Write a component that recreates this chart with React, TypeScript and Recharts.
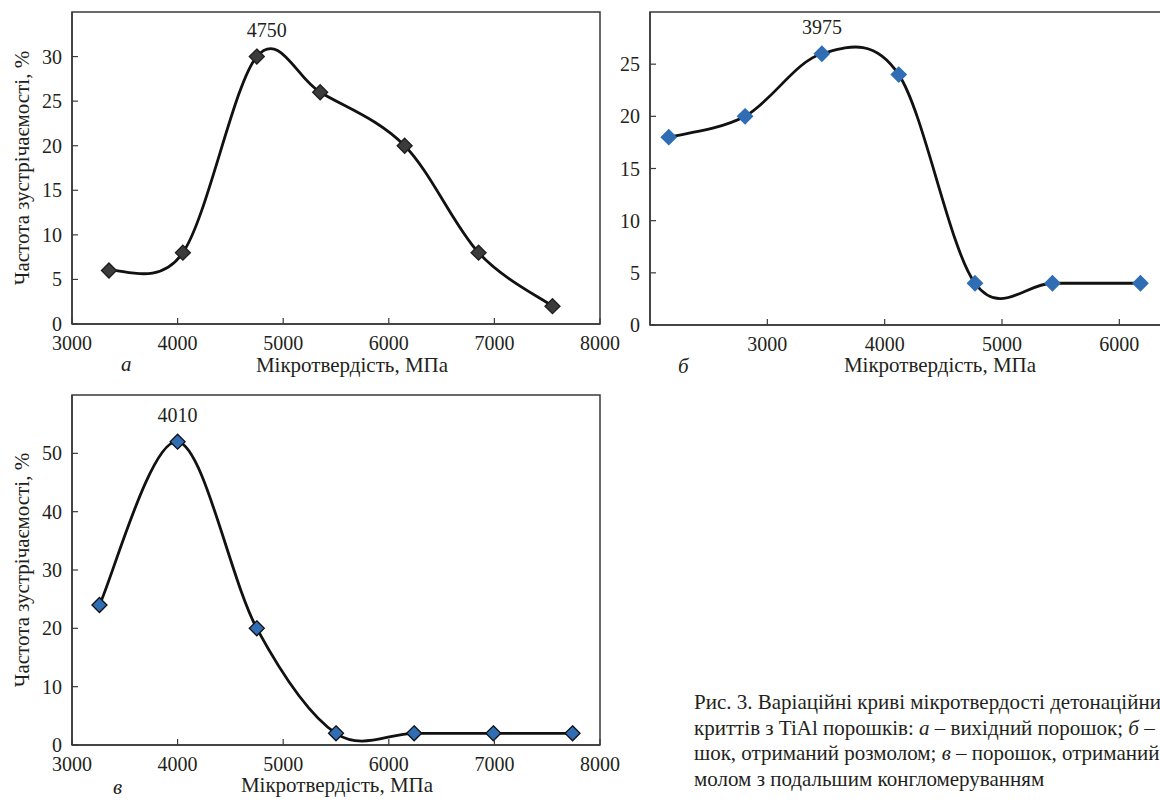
import {
  Line,
  LineChart,
  ReferenceArea,
  ReferenceDot,
  XAxis,
  YAxis,
} from "recharts"

// panel а – вихідний порошок
const A_X = [3350, 4050, 4750, 5350, 6150, 6850, 7550]
const A_Y = [6, 8, 30, 26, 20, 8, 2]
const A_PEAK = 2
const A_PEAK_LABEL = "4750"
const A_X_TICKS = [3000, 4000, 5000, 6000, 7000, 8000]
const A_Y_TICKS = [0, 5, 10, 15, 20, 25, 30]

// panel б – розмол
const B_X = [2160, 2810, 3465, 4120, 4770, 5430, 6180]
const B_Y = [18, 20, 26, 24, 4, 4, 4]
const B_PEAK = 2
const B_PEAK_LABEL = "3975"
const B_X_TICKS = [3000, 4000, 5000, 6000]
const B_Y_TICKS = [0, 5, 10, 15, 20, 25]

// panel в – розмол + конгломерування
const C_X = [3260, 4000, 4750, 5500, 6240, 6990, 7740]
const C_Y = [24, 52, 20, 2, 2, 2, 2]
const C_PEAK = 1
const C_PEAK_LABEL = "4010"
const C_X_TICKS = [3000, 4000, 5000, 6000, 7000, 8000]
const C_Y_TICKS = [0, 10, 20, 30, 40, 50]

const X_TITLE = "Мікротвердість, МПа"
const Y_TITLE = "Частота зустрічаємості, %"

const FONT = "Liberation Serif, DejaVu Serif, serif"
const TEXT = "#231f20"
const AXIS = "#3a3a3a"
const BLUE = "#2f6db5"
const TICK_MARGIN = 10
const TICK_LEN = 6

const toRows = (xs: number[], ys: number[]) =>
  xs.map((x, i) => ({ x, y: ys[i] }))

// Excel-style smoothed line (Catmull-Rom as cubic Bezier)
const smoothCurve = (context: any) => {
  let pts: number[][] = []
  return {
    areaStart() {},
    areaEnd() {},
    lineStart() {
      pts = []
    },
    point(x: number, y: number) {
      pts.push([+x, +y])
    },
    lineEnd() {
      if (!pts.length) return
      context.moveTo(pts[0][0], pts[0][1])
      for (let i = 0; i < pts.length - 1; i++) {
        const p0 = pts[Math.max(i - 1, 0)]
        const p1 = pts[i]
        const p2 = pts[i + 1]
        const p3 = pts[Math.min(i + 2, pts.length - 1)]
        context.bezierCurveTo(
          p1[0] + (p2[0] - p0[0]) / 6,
          p1[1] + (p2[1] - p0[1]) / 6,
          p2[0] - (p3[0] - p1[0]) / 6,
          p2[1] - (p3[1] - p1[1]) / 6,
          p2[0],
          p2[1]
        )
      }
    },
  }
}

const XTick = (props: any) => {
  const { x, y, payload } = props
  const axisY = y - TICK_MARGIN
  return (
    <g>
      <line x1={x} x2={x} y1={axisY} y2={axisY - TICK_LEN} stroke={AXIS} strokeWidth={1.2} />
      <text x={x} y={y + 2} dy="0.72em" textAnchor="middle" fontSize={20} fill={TEXT} fontFamily={FONT}>
        {payload.value}
      </text>
    </g>
  )
}

const YTick = (props: any) => {
  const { x, y, payload } = props
  const axisX = x + TICK_MARGIN
  return (
    <g>
      <line x1={axisX} x2={axisX + TICK_LEN} y1={y} y2={y} stroke={AXIS} strokeWidth={1.2} />
      <text x={x} y={y} dy="0.35em" textAnchor="end" fontSize={20} fill={TEXT} fontFamily={FONT}>
        {payload.value}
      </text>
    </g>
  )
}

const diamond = (fill: string, stroke: string, r: number) => (props: any) => {
  const { cx, cy, index } = props
  if (cx == null || cy == null) return <g key={index} />
  return (
    <polygon
      key={index}
      points={`${cx},${cy - r} ${cx + r},${cy} ${cx},${cy + r} ${cx - r},${cy}`}
      fill={fill}
      stroke={stroke}
      strokeWidth={1.3}
    />
  )
}

interface PanelProps {
  xs: number[]
  ys: number[]
  peak: number
  peakLabel: string
  peakDx: number
  xDomain: [number, number]
  yMax: number
  xTicks: number[]
  yTicks: number[]
  width: number
  height: number
  plotHeight: number
  showYTitle: boolean
  titleDx: number
  dot: (props: any) => any
}

const Panel = ({
  xs,
  ys,
  peak,
  peakLabel,
  peakDx,
  xDomain,
  yMax,
  xTicks,
  yTicks,
  width,
  height,
  plotHeight,
  showYTitle,
  titleDx,
  dot,
}: PanelProps) => {
  const data = toRows(xs, ys)
  return (
    <LineChart
      width={width}
      height={height}
      data={data}
      margin={{ top: 12, right: width - 600, left: 0, bottom: 0 }}
    >
      <XAxis
        dataKey="x"
        type="number"
        domain={xDomain}
        ticks={xTicks}
        interval={0}
        height={height - 12 - plotHeight}
        tickSize={0}
        tickMargin={TICK_MARGIN}
        tickLine={false}
        tick={<XTick />}
        axisLine={{ stroke: AXIS, strokeWidth: 1.5 }}
        label={{
          value: X_TITLE,
          position: "insideBottom",
          offset: 8,
          dx: titleDx,
          fontSize: 21,
          fill: TEXT,
          fontFamily: FONT,
        }}
      />
      <YAxis
        type="number"
        domain={[0, yMax]}
        ticks={yTicks}
        interval={0}
        width={72}
        tickSize={0}
        tickMargin={TICK_MARGIN}
        tickLine={false}
        tick={<YTick />}
        axisLine={{ stroke: AXIS, strokeWidth: 1.5 }}
        label={
          showYTitle
            ? {
                value: Y_TITLE,
                angle: -90,
                position: "center",
                dx: -14,
                fontSize: 21,
                fill: TEXT,
                fontFamily: FONT,
              }
            : undefined
        }
      />
      <ReferenceArea
        x1={xDomain[0]}
        x2={xDomain[1]}
        y1={0}
        y2={yMax}
        fill="none"
        stroke={AXIS}
        strokeWidth={1.5}
        ifOverflow="visible"
      />
      <Line
        dataKey="y"
        type={smoothCurve as any}
        stroke="#111"
        strokeWidth={2.8}
        dot={dot}
        activeDot={false}
        isAnimationActive={false}
      />
      <ReferenceDot
        x={xs[peak]}
        y={ys[peak]}
        r={0}
        fill="none"
        stroke="none"
        label={{
          value: peakLabel,
          position: "top",
          offset: 20,
          dx: peakDx,
          fontSize: 20,
          fill: TEXT,
          fontFamily: FONT,
        }}
      />
    </LineChart>
  )
}

const letterStyle = (left: number, top: number): React.CSSProperties => ({
  position: "absolute",
  left,
  top,
  fontFamily: FONT,
  fontStyle: "italic",
  fontSize: 21,
  color: TEXT,
  lineHeight: "20px",
})

export default function App() {
  return (
    <div
      style={{
        position: "absolute",
        left: 0,
        top: 0,
        width: 1160,
        height: 803,
        overflow: "hidden",
        background: "#fff",
      }}
    >
      <div style={{ position: "absolute", left: 0, top: 0 }}>
        <Panel
          xs={A_X}
          ys={A_Y}
          peak={A_PEAK}
          peakLabel={A_PEAK_LABEL}
          peakDx={10}
          xDomain={[3000, 8000]}
          yMax={35}
          xTicks={A_X_TICKS}
          yTicks={A_Y_TICKS}
          width={640}
          height={380}
          plotHeight={312}
          showYTitle
          titleDx={16}
          dot={diamond("#3b3b3b", "#1e1e1e", 7.5)}
        />
      </div>
      <div style={{ position: "absolute", left: 578, top: 0 }}>
        <Panel
          xs={B_X}
          ys={B_Y}
          peak={B_PEAK}
          peakLabel={B_PEAK_LABEL}
          peakDx={0}
          xDomain={[2000, 6500]}
          yMax={30}
          xTicks={B_X_TICKS}
          yTicks={B_Y_TICKS}
          width={597}
          height={380}
          plotHeight={313}
          showYTitle={false}
          titleDx={26}
          dot={diamond(BLUE, BLUE, 7.5)}
        />
      </div>
      <div style={{ position: "absolute", left: 0, top: 383 }}>
        <Panel
          xs={C_X}
          ys={C_Y}
          peak={C_PEAK}
          peakLabel={C_PEAK_LABEL}
          peakDx={0}
          xDomain={[3000, 8000]}
          yMax={60}
          xTicks={C_X_TICKS}
          yTicks={C_Y_TICKS}
          width={640}
          height={417}
          plotHeight={350}
          showYTitle
          titleDx={1}
          dot={diamond(BLUE, "#111", 7.5)}
        />
      </div>
      <div style={letterStyle(121, 354)}>а</div>
      <div style={letterStyle(678, 356)}>б</div>
      <div style={letterStyle(113, 777)}>в</div>
      <div
        style={{
          position: "absolute",
          left: 694,
          top: 690,
          fontFamily: FONT,
          fontSize: 21,
          lineHeight: "25.5px",
          color: TEXT,
          whiteSpace: "nowrap",
        }}
      >
        <div>Рис. 3. Варіаційні криві мікротвердості детонаційних по-</div>
        <div>
          криттів з TiAl порошків: <i>а</i> – вихідний порошок; <i>б</i> – поро-
        </div>
        <div>
          шок, отриманий розмолом; <i>в</i> – порошок, отриманий роз-
        </div>
        <div>молом з подальшим конгломеруванням</div>
      </div>
    </div>
  )
}
